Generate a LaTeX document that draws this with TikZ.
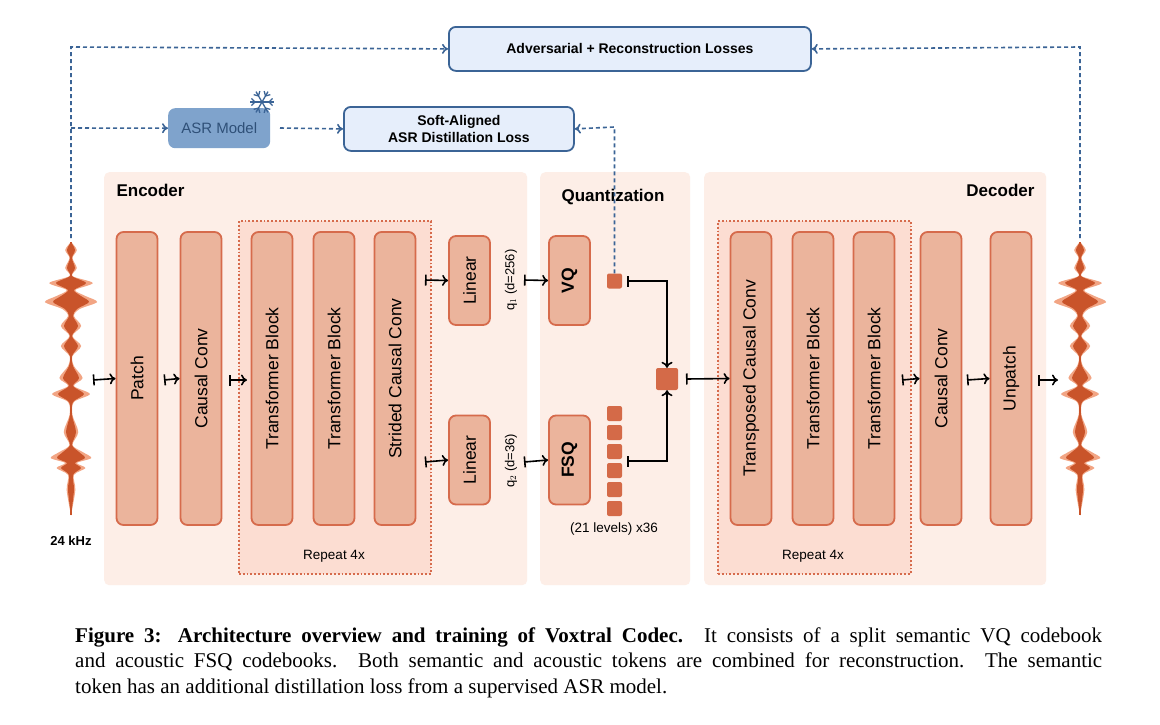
\documentclass[tikz,border=0pt]{standalone}
\usepackage{fontspec}
\setmainfont{Liberation Sans}
\newfontfamily\capfont{Liberation Serif}
\usetikzlibrary{arrows.meta}
\definecolor{panel}{HTML}{FDEEE7}
\definecolor{rep}{HTML}{FCDDD2}
\definecolor{blk}{HTML}{EBB49C}
\definecolor{blkb}{HTML}{D66B4C}
\definecolor{tok}{HTML}{D46A48}
\definecolor{bl}{HTML}{3B6496}
\definecolor{blf}{HTML}{E6EEFB}
\definecolor{asr}{HTML}{7FA3CC}
\definecolor{wd}{HTML}{C9542A}
\definecolor{wl}{HTML}{F2A584}
\tikzset{
 block/.style={draw=blkb,fill=blk,line width=1.8pt,rounded corners=7pt,font=\fontsize{17.5}{20}\selectfont,text=black},
 panelbox/.style={fill=panel,draw=none,rounded corners=5pt},
 repbox/.style={fill=rep,draw=blkb,line width=1.8pt,dotted},
 tokn/.style={fill=tok,draw=none,rounded corners=2pt},
 loss/.style={draw=bl,fill=blf,line width=1.8pt,rounded corners=7pt,font=\fontsize{14}{17}\selectfont,align=center},
 barr/.style={{Bar[width=11pt]}-{To[length=6pt,width=11pt]},line width=1.6pt},
 dsh/.style={bl,dash pattern=on 4pt off 3pt,line width=1.6pt,-{To[length=6pt,width=10pt]}},
 title/.style={font=\fontsize{17}{20}\selectfont\bfseries},
 small/.style={font=\fontsize{13.5}{16}\selectfont},
}
\def\halfwave{(0,242)(4,250)(1,258)(4,268)(1,276)(15,283)(3,290)(10,296)(18,302)(6,309)(2,316)(7,326)(1,336)(7,346)(1,356)(2,366)(8,378)(2,386)(13,394)(2,402)(1,415)(5,432)(1,445)(8,452)(14,458)(4,463)(10,468)(2,475)(3,490)(0,515)}
\newcommand{\wave}[1]{%
\begin{scope}[xshift=#1pt]
\foreach \s in {1,-1}{
 \begin{scope}[xscale=1.45*\s]\fill[wl] plot[smooth,tension=0.5] coordinates {\halfwave} -- cycle;\end{scope}}
\foreach \s in {1,-1}{
 \begin{scope}[xscale=\s]\fill[wd] plot[smooth,tension=0.5] coordinates {\halfwave} -- cycle;\end{scope}}
\draw[wd,line width=1.2pt] (0,242)--(0,515);
\end{scope}}
\begin{document}
\begin{tikzpicture}[x=1pt,y=-1pt]
\useasboundingbox (0,0) rectangle (1160,724);
\fill[white] (0,0) rectangle (1160,724);
% panels
\node[panelbox,minimum width=423pt,minimum height=413pt,anchor=north west] (enc) at (104,172) {};
\node[panelbox,minimum width=150pt,minimum height=413pt,anchor=north west] (qz) at (540,172) {};
\node[panelbox,minimum width=342pt,minimum height=413pt,anchor=north west] (dec) at (704,172) {};
\node[repbox,minimum width=192pt,minimum height=353pt,anchor=north west] (rep1) at (238,220) {};
\node[repbox,minimum width=193pt,minimum height=353pt,anchor=north west] (rep2) at (717,220) {};
\node[title,anchor=west] (enct) at (113,190) {Encoder};
\node[title] (qzt) at (613,197) {Quantization};
\node[title,anchor=east] (dect) at (1038,190) {Decoder};
\node[small] (r1) at (334,556) {Repeat 4x};
\node[small] (r2) at (813,556) {Repeat 4x};
% blocks
\foreach \n/\x/\t in {patch/137/Patch,cc/201/Causal Conv,tb1/272/Transformer Block,tb2/334/Transformer Block,scc/395/Strided Causal Conv,tcc/751/Transposed Causal Conv,tb3/813/Transformer Block,tb4/874/Transformer Block,cc2/941/Causal Conv,unp/1011/Unpatch}{
 \node[block,minimum width=293pt,minimum height=41pt,rotate=90] (\n) at (\x,378.5) {\t};}
\node[block,minimum width=89pt,minimum height=41pt,rotate=90] (lin1) at (469.5,280.5) {Linear};
\node[block,minimum width=89pt,minimum height=41pt,rotate=90] (lin2) at (469.5,460) {Linear};
\node[block,minimum width=89pt,minimum height=41pt,rotate=90] (vq) at (569.5,280.5) {\bfseries VQ};
\node[block,minimum width=89pt,minimum height=41pt,rotate=90] (fsq) at (569.5,460) {\bfseries FSQ};
\node[small,font=\fontsize{13}{15}\selectfont,rotate=90] (q1) at (511,280) {q$_1$ (d=256)};
\node[small,font=\fontsize{13}{15}\selectfont,rotate=90] (q2) at (511,461) {q$_2$ (d=36)};
% tokens
\node[tokn,minimum size=15pt,inner sep=0] (vt) at (614.5,281) {};
\foreach \i in {0,...,5}{\node[tokn,minimum size=15pt,inner sep=0] (f\i) at (614.5,413.5+19*\i) {};}
\node[tokn,minimum size=22pt,inner sep=0] (cmb) at (667,379) {};
\node[small] (lv) at (614,529) {(21 levels) x36};
% waves
\wave{71}
\wave{1080}
\node[small,font=\fontsize{13}{15}\selectfont\bfseries] (khz) at (71,541) {24 kHz};
% arrows
\draw[barr] (93,380) -- (patch.north);
\draw[barr] (164,380) -- (cc.north);
\draw[barr] (229,380) -- (247,380);
\draw[barr] (425,280) -- (lin1.north);
\draw[barr] (425,462) -- (lin2.north);
\draw[barr] (524,280) -- (vq.north);
\draw[barr] (524,462) -- (fsq.north);
\draw[barr] (627,281) -| (cmb.north);
\draw[barr] (627,461) -| (cmb.south);
\draw[barr] (686,379) -- (tcc.north);
\draw[barr] (902,380) -- (cc2.north);
\draw[barr] (967,380) -- (unp.north);
\draw[barr] (1038,380) -- (1058,380);
% top boxes
\node[loss,minimum width=362pt,minimum height=44pt,anchor=north west] (adv) at (448,26) {\bfseries Adversarial + Reconstruction Losses};
\node[loss,minimum width=230pt,minimum height=44pt,anchor=north west,font=\fontsize{14}{17}\selectfont\bfseries] (soft) at (343,106) {Soft-Aligned\\ASR Distillation Loss};
\node[draw=none,fill=asr,rounded corners=7pt,minimum width=102pt,minimum height=40pt,anchor=north west,font=\fontsize{15}{17}\selectfont,text=bl!80!black] (asrm) at (168,108) {ASR Model};
% snowflake
\begin{scope}[shift={(262,102)},bl,line width=1.3pt]
\foreach \a in {0,60,120,180,240,300}{
 \draw (0,0) -- (\a:12);
 \draw (\a:7) -- ++(\a+45:5); \draw (\a:7) -- ++(\a-45:5);}
\end{scope}
% dashed
\draw[dsh] (71,238) -- (71,47) -- (adv.west);
\draw[dsh] (1080,238) -- (1080,47) -- (adv.east);
\draw[dsh] (71,128) -- (asrm.west);
\draw[dsh] (280,128) -- (soft.west);
\draw[dsh] (vt.north) -- (614.5,127) -- (soft.east);
% caption
\node[anchor=west,inner sep=0,font=\capfont\fontsize{21}{25}\selectfont] (c1) at (75,637) {\makebox[1027pt][s]{\textbf{Figure 3: Architecture overview and training of Voxtral Codec.} It consists of a split semantic VQ codebook}};
\node[anchor=west,inner sep=0,font=\capfont\fontsize{21}{25}\selectfont] (c2) at (75,662) {\makebox[1027pt][s]{and acoustic FSQ codebooks. Both semantic and acoustic tokens are combined for reconstruction. The semantic}};
\node[anchor=west,inner sep=0,font=\capfont\fontsize{21}{25}\selectfont] (c3) at (75,688) {token has an additional distillation loss from a supervised ASR model.};
\end{tikzpicture}
\end{document}
